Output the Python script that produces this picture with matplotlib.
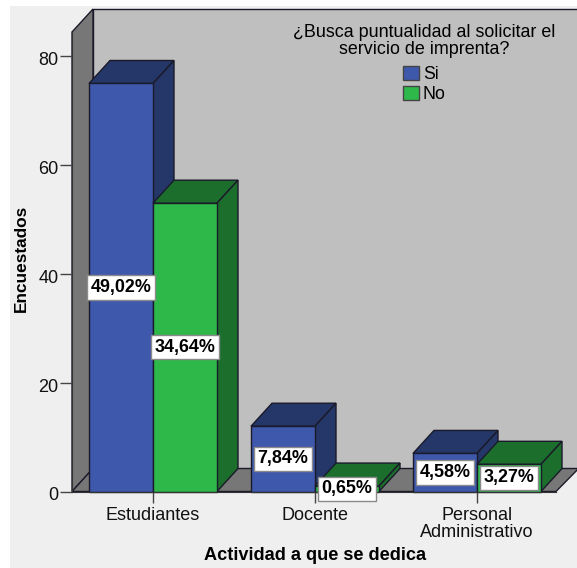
import numpy as np
import matplotlib
matplotlib.use('Agg')
import matplotlib.pyplot as plt
from matplotlib.patches import Polygon, Patch, Rectangle
from matplotlib.transforms import ScaledTranslation

categories = ['Estudiantes', 'Docente', 'Personal\nAdministrativo']
si = [75, 12, 7]
no = [53, 1, 5]
si_labels = ['49,02%', '7,84%', '4,58%']
no_labels = ['34,64%', '0,65%', '3,27%']
yticks = [0, 20, 40, 60, 80]

blue, blue_dk = '#3e58ac', '#253768'
green, green_dk = '#2fb84a', '#1c6e2c'
edge = '#1a1a2a'
wall = '#777777'
back = '#bfbfbf'
bg = '#efefef'

W, H = 577, 568
plt.rcParams['font.family'] = ['Liberation Sans', 'DejaVu Sans']

fig = plt.figure(figsize=(W / 100, H / 100), dpi=100, facecolor=bg)

# white strip along the top and left of the image
fig.add_artist(Rectangle((0, 0), 10 / W, 1, transform=fig.transFigure, fc='white', ec='none'))
fig.add_artist(Rectangle((0, 1 - 6 / H), 1, 6 / H, transform=fig.transFigure, fc='white', ec='none'))

# plot frame: x 72..577 px, y 9..491.5 px
ax = fig.add_axes([72 / W, 1 - 491.5 / H, 505 / W, 482.5 / H])
ax.patch.set_visible(False)
ax.set_xlim(-0.5, 424 / 162)
ax.set_ylim(0, 482.5 / 5.44)

bw = 64 / 162
dx = 21 / 162
dy = 23 / 5.44
ytop = 482.5 / 5.44
xleft = -0.5
xright = 424 / 162
wall_top = ytop - dy


def add_poly(pts, fc, ec=edge, lw=1.0):
    ax.add_patch(Polygon(pts, closed=True, fc=fc, ec=ec, lw=lw, clip_on=False, joinstyle='miter'))


# back wall, side wall, floor
add_poly([(xleft + dx, dy), (xright + 0.01, dy), (xright + 0.01, ytop), (xleft + dx, ytop)], back)
add_poly([(xleft, 0), (xleft + dx, dy), (xleft + dx, ytop), (xleft, wall_top)], wall)
add_poly([(xleft, 0), (xright - dx, 0), (xright + 0.01, dy), (xleft + dx, dy)], wall)


def bar3d(x0, h, front, dark):
    x1 = x0 + bw
    add_poly([(x0, h), (x0 + dx, h + dy), (x1 + dx, h + dy), (x1, h)], dark)
    add_poly([(x1, 0), (x1 + dx, dy), (x1 + dx, h + dy), (x1, h)], dark)
    add_poly([(x0, 0), (x1, 0), (x1, h), (x0, h)], front)


for i in range(len(categories)):
    bar3d(i - bw, si[i], blue, blue_dk)
    bar3d(i, no[i], green, green_dk)

box = dict(boxstyle='square,pad=0.2', fc='white', ec='#8a8a8a', lw=1.0)
for i in range(len(categories)):
    ax.text(i - bw / 2, si[i] / 2, si_labels[i], ha='center', va='center', fontsize=12.9,
            fontweight='bold', color='black', bbox=box, zorder=6)
    ax.text(i + bw / 2, no[i] / 2, no_labels[i], ha='center', va='center', fontsize=12.9,
            fontweight='bold', color='black', bbox=box, zorder=6)

ax.spines['top'].set_visible(False)
ax.spines['right'].set_visible(False)
ax.spines['left'].set_bounds(0, wall_top)
ax.spines['bottom'].set_bounds(xleft, xright - dx)
for s in ['left', 'bottom']:
    ax.spines[s].set_color('#333333')
    ax.spines[s].set_zorder(5)

ax.set_yticks(yticks)
ax.set_xticks(range(len(categories)))
ax.set_xticklabels(categories, linespacing=1.03)
ax.tick_params(axis='y', length=8.6, width=1, color='#444444', labelsize=13, pad=1, labelcolor='#111111')
ax.tick_params(axis='x', length=8, width=1, color='#444444', labelsize=13, pad=3.2, labelcolor='#111111')

# y tick labels sit a little below their ticks
down = ScaledTranslation(0, -2.5 / 100, fig.dpi_scale_trans)
for t in ax.get_yticklabels():
    t.set_transform(t.get_transform() + down)

ax.set_xlabel('Actividad a que se dedica', fontsize=13.1, fontweight='bold', va='center')
ax.xaxis.set_label_coords((315 - 72) / 505, -(556 - 491.5) / 482.5)
ax.set_ylabel('Encuestados', fontsize=12.4, fontweight='bold', va='center')
ax.yaxis.set_label_coords((21 - 72) / 505, (491.5 - 258) / 482.5)

handles = [Patch(fc=blue, ec='#444444', label='Si'), Patch(fc=green, ec='#444444', label='No')]
leg = ax.legend(handles=handles, title='¿Busca puntualidad al solicitar el\nservicio de imprenta?',
                frameon=False, fontsize=12.8, title_fontsize=12.85, alignment='center',
                handlelength=0.9, handleheight=0.85, handletextpad=0.2, labelspacing=0.18,
                borderpad=0, loc='upper center', bbox_to_anchor=((424.5 - 72) / 505, (491.5 - 15) / 482.5))
leg.get_title().set_multialignment('center')
leg.get_title().set_linespacing(1.0)
leg._legend_box.sep = 5.5
leg.set_zorder(7)

fig.savefig('out.png', dpi=100, facecolor=fig.get_facecolor())
